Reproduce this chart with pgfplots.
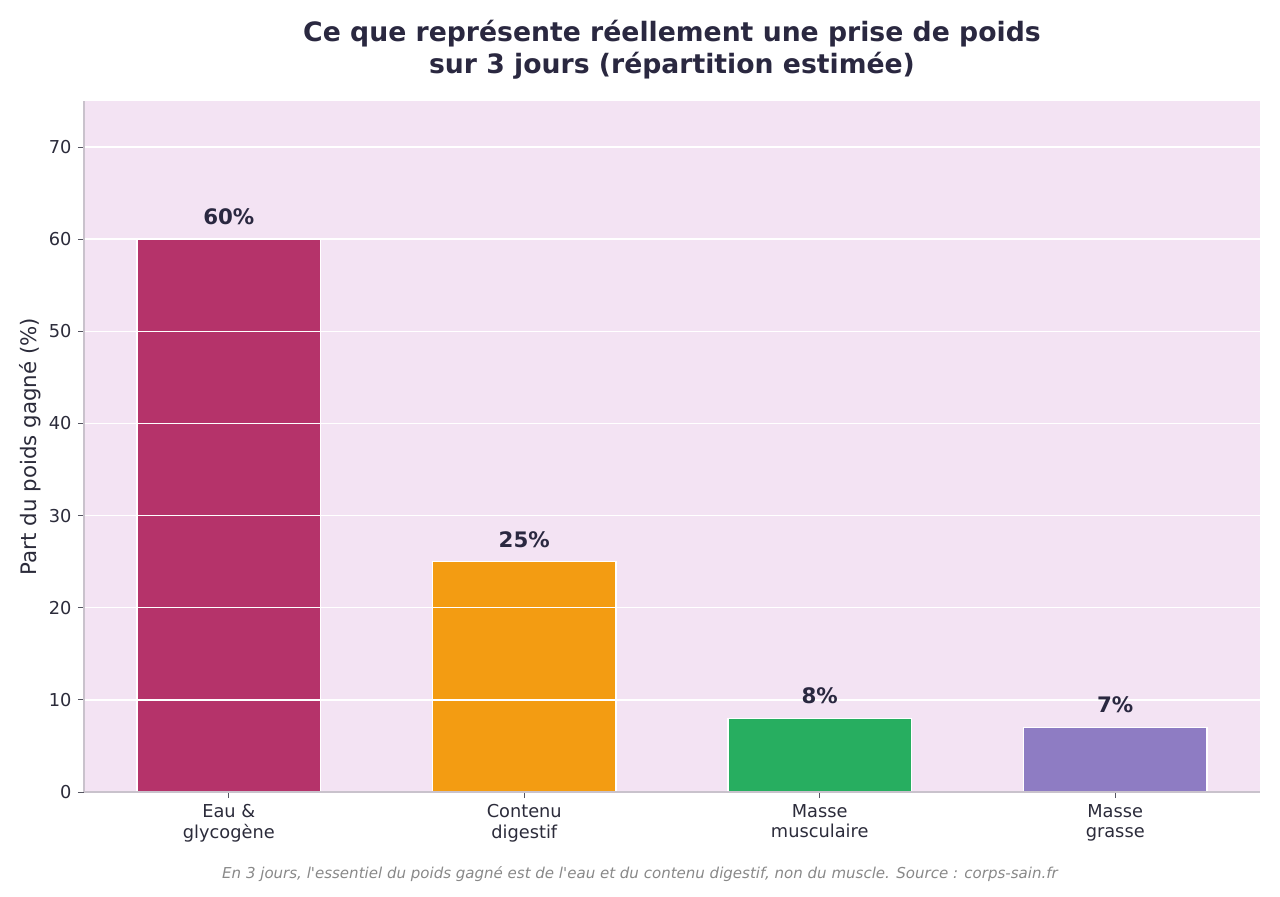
\documentclass[border=0pt]{standalone}
\usepackage{pgfplots}
\pgfplotsset{compat=1.18}
\usepackage{fontspec}
\setmainfont{DejaVu Sans}

\definecolor{titlecol}{HTML}{2A2840}
\definecolor{textcol}{HTML}{2B2B3A}
\definecolor{panelbg}{HTML}{F3E3F3}
\definecolor{spinecol}{HTML}{C9C2CC}
\definecolor{footcol}{HTML}{888888}
\definecolor{cEau}{HTML}{B5336A}
\definecolor{cDig}{HTML}{F39C12}
\definecolor{cMus}{HTML}{27AE60}
\definecolor{cGra}{HTML}{8E7CC3}

\begin{document}
\begin{tikzpicture}
\path[use as bounding box] (0,0) rectangle (720pt,504pt);

\begin{axis}[
  at={(47.25pt,58.5pt)}, anchor=south west,
  scale only axis, width=661.5pt, height=388.7pt,
  axis background/.style={fill=panelbg},
  axis on top,
  ymin=0, ymax=75, xmin=-0.49, xmax=3.49,
  ytick={0,10,...,70},
  xtick={0,1,2,3},
  xticklabels={{Eau \&\\glycogène},{Contenu\\digestif},{Masse\\musculaire},{Masse\\grasse}},
  xticklabel style={align=center, font=\fontsize{10}{11.5}\selectfont, text=textcol},
  yticklabel style={font=\fontsize{10}{12}\selectfont, text=textcol},
  /pgf/number format/assume math mode=true,
  ymajorgrids, major grid style={white, line width=0.85pt},
  axis x line*=bottom, axis y line*=left,
  axis line style={spinecol, line width=0.7pt},
  tick style={color=textcol!80, line width=0.5pt},
  tick align=outside, major tick length=3.5pt,
  ylabel={Part du poids gagné (\%)},
  ylabel style={at={(axis description cs:-0.0459,0.5)}, anchor=center, rotate=0,
    font=\fontsize{12}{14}\selectfont, text=textcol},
  ybar, bar width=0.62, bar shift=0pt,
  point meta=explicit,
  nodes near coords={\pgfmathprintnumber{\pgfplotspointmeta}\%},
  nodes near coords style={anchor=base, yshift=8.2pt,
    font=\bfseries\fontsize{12}{14}\selectfont, text=titlecol,
    /pgf/number format/assume math mode=true},
  every axis plot/.append style={draw=white, line width=0.85pt},
]
\addplot[fill=cEau] coordinates {(0,60) [60]};
\addplot[fill=cDig] coordinates {(1,25) [25]};
\addplot[fill=cMus] coordinates {(2,8) [8]};
\addplot[fill=cGra] coordinates {(3,7) [7]};
\end{axis}

\node[align=center, text=titlecol, font=\bfseries\fontsize{15}{18}\selectfont]
  at (378pt,476pt) {Ce que représente réellement une prise de poids\\sur 3 jours (répartition estimée)};

\node[text=footcol, font=\itshape\fontsize{8.45}{10}\selectfont]
  at (360pt,12.6pt) {En 3 jours, l\textquotesingle essentiel du poids gagné est de l\textquotesingle eau et du contenu digestif, non du muscle. Source : corps-sain.fr};
\end{tikzpicture}
\end{document}
